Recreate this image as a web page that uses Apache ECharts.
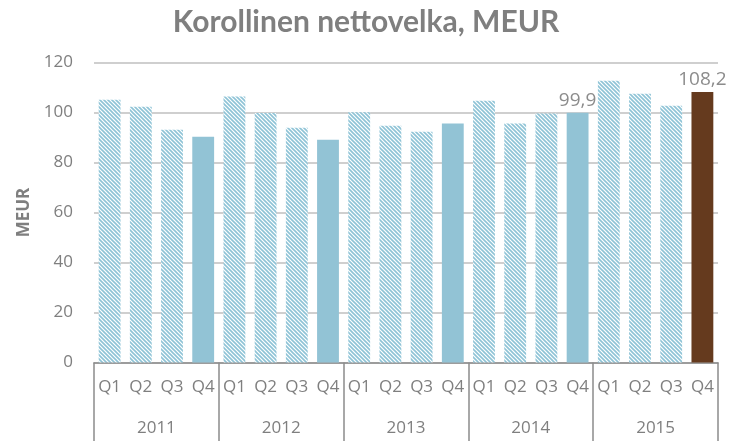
<!DOCTYPE html>
<html>
<head>
<meta charset="utf-8">
<script src="https://cdn.jsdelivr.net/npm/echarts@6/dist/echarts.min.js"></script>
<style>
  html, body { margin: 0; padding: 0; background: #fff; }
  #chart { width: 732px; height: 441px; }
</style>
</head>
<body>
<div id="chart"></div>
<script>
// kvartaalit ja vuodet
var quarters = ["Q1", "Q2", "Q3", "Q4", "Q1", "Q2", "Q3", "Q4", "Q1", "Q2", "Q3", "Q4",
                "Q1", "Q2", "Q3", "Q4", "Q1", "Q2", "Q3", "Q4"];
var years = ["2011", "2012", "2013", "2014", "2015"];
// korollinen nettovelka, MEUR
var values = [105.1, 102.3, 93.1, 90.3,
              106.4, 99.8, 93.9, 89.1,
              100.1, 94.7, 92.3, 95.6,
              104.7, 95.6, 99.6, 99.9,
              112.7, 107.5, 102.7, 108.2];
var labelled = { 15: "99,9", 19: "108,2" };
var yTicks = [0, 20, 40, 60, 80, 100, 120];

// vinoviivakuvio
function hatch() {
  var c = document.createElement("canvas");
  c.width = 4;
  c.height = 4;
  var ctx = c.getContext("2d");
  ctx.fillStyle = "#ffffff";
  ctx.fillRect(0, 0, 4, 4);
  ctx.strokeStyle = "#8ec3d6";
  ctx.lineWidth = 1.6;
  ctx.beginPath();
  ctx.moveTo(-1, -1); ctx.lineTo(5, 5);
  ctx.moveTo(-1, 3); ctx.lineTo(1, 5);
  ctx.moveTo(3, -1); ctx.lineTo(5, 1);
  ctx.stroke();
  return c;
}
var pattern = { image: hatch(), repeat: "repeat" };

var barData = values.map(function (v, i) {
  var color = pattern;
  if (i % 4 === 3) color = "#92c3d5";
  if (i === values.length - 1) color = "#653a1e";
  var item = { value: v, itemStyle: { color: color } };
  if (labelled[i]) {
    item.label = {
      show: true,
      position: "top",
      formatter: labelled[i],
      color: "#8c8c8c",
      fontSize: 19,
      fontFamily: "Open Sans",
      distance: 3
    };
  }
  return item;
});

var myChart = echarts.init(document.getElementById("chart"));
var option = {
  animation: false,
  title: {
    text: "Korollinen nettovelka, MEUR",
    left: "center",
    top: 2,
    textStyle: {
      color: "#7f7f7f",
      fontSize: 30,
      fontWeight: "bold",
      fontFamily: "Lato"
    }
  },
  grid: {
    left: 94,
    right: 14,
    top: 62.5,
    bottom: 78.5
  },
  xAxis: [
    {
      type: "category",
      data: quarters,
      axisLine: { show: true, lineStyle: { color: "#8c8c8c", width: 1.5 } },
      axisTick: { show: false },
      axisLabel: {
        interval: 0,
        color: "#7f7f7f",
        fontSize: 17,
        fontFamily: "Open Sans",
        margin: 16
      }
    },
    {
      type: "category",
      data: years,
      position: "bottom",
      axisLine: { show: false },
      axisTick: {
        show: true,
        interval: 0,
        length: 80,
        lineStyle: { color: "#8c8c8c", width: 1.5 }
      },
      axisLabel: {
        interval: 0,
        color: "#7f7f7f",
        fontSize: 17,
        fontFamily: "Open Sans",
        margin: 57
      }
    }
  ],
  yAxis: {
    type: "value",
    min: yTicks[0],
    max: yTicks[yTicks.length - 1],
    interval: 20,
    name: "MEUR",
    nameLocation: "middle",
    nameGap: 56,
    nameTextStyle: {
      color: "#7f7f7f",
      fontSize: 17,
      fontWeight: "bold",
      fontFamily: "Open Sans"
    },
    axisLine: { show: false },
    axisTick: { show: false },
    axisLabel: {
      color: "#7f7f7f",
      fontSize: 17,
      fontFamily: "Open Sans",
      margin: 21
    },
    splitLine: { lineStyle: { color: "#bfbfbf", width: 1.5 } }
  },
  series: [
    {
      type: "bar",
      xAxisIndex: 0,
      barCategoryGap: "30%",
      data: barData
    }
  ]
};

option && myChart.setOption(option);
</script>
</body>
</html>
